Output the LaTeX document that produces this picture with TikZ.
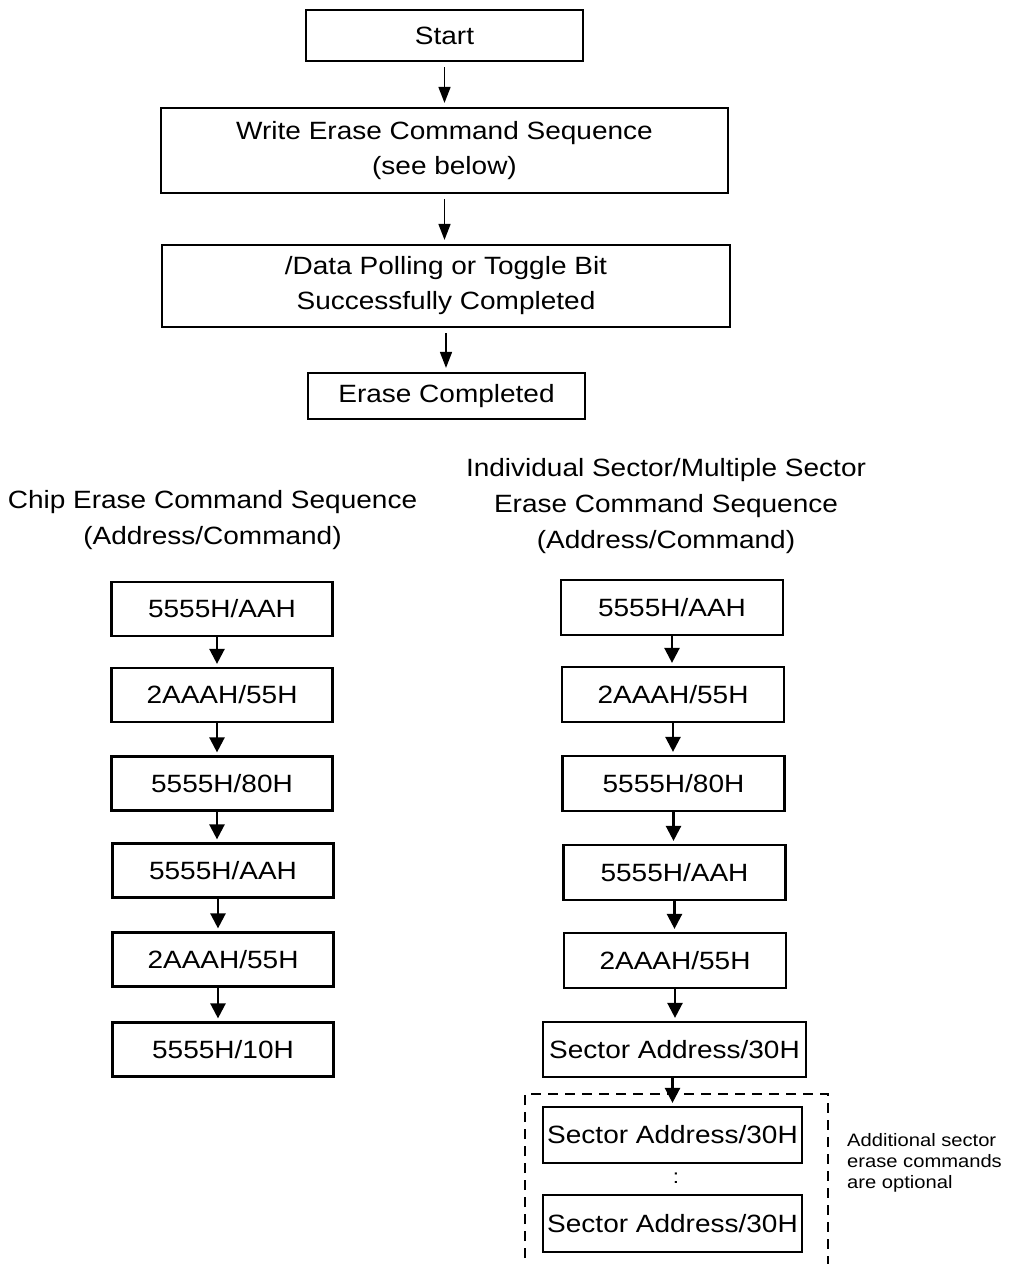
\documentclass[tikz,border=0pt]{standalone}
\usepackage{fontspec}
\setmainfont{Liberation Sans}[FakeStretch=1.12]
\usetikzlibrary{arrows.meta}
\begin{document}
\begin{tikzpicture}[x=1pt,y=-1pt,
  box/.style={draw, line width=2.2pt, inner sep=0pt, align=center,
    font=\fontsize{25}{35}\selectfont},
  title/.style={align=center, inner sep=0pt, font=\fontsize{25}{36}\selectfont},
  thinarrow/.style={line width=1.6pt, -{Triangle[length=16pt,width=12pt]}, shorten <=5pt, shorten >=4pt},
  seqarrow/.style={line width=2.4pt, -{Triangle[length=15pt,width=15pt]}, shorten >=3pt},
  dashbox/.style={line width=2pt, dash pattern=on 10pt off 7pt}
]
\useasboundingbox (0,0) rectangle (1017,1264);

% top flow
\node[box, minimum width=277pt, minimum height=51pt] (start) at (444.5,35.5) {Start};
\node[box, minimum width=567pt, minimum height=85pt] (write) at (444.5,150.5) {Write Erase Command Sequence\\(see below)};
\node[box, minimum width=568pt, minimum height=82pt] (poll) at (446,286) {/Data Polling or Toggle Bit\\Successfully Completed};
\node[box, minimum width=277pt, minimum height=46pt] (done) at (446.5,396) {Erase Completed};

\draw[thinarrow] (start.south) -- (write.north);
\draw[thinarrow] (write.south) -- (write.south |- poll.north);
\draw[thinarrow] (poll.south) -- (poll.south |- done.north);

% titles
\node[title] (ltitle) at (212.5,520) {Chip Erase Command Sequence\\(Address/Command)};
\node[title] (rtitle) at (666,506) {Individual Sector/Multiple Sector\\Erase Command Sequence\\(Address/Command)};

% left column
\begin{scope}[every node/.style={box, minimum width=221pt, minimum height=54pt}]
\node (L1) at (222,609) {5555H/AAH};
\node (L2) at (222,695) {2AAAH/55H};
\node (L3) at (222,783.5) {5555H/80H};
\node (L4) at (223,870.5) {5555H/AAH};
\node (L5) at (223,959.5) {2AAAH/55H};
\node (L6) at (223,1049.5) {5555H/10H};
\end{scope}
\foreach \a/\b in {L1/L2,L2/L3,L3/L4,L4/L5,L5/L6}
  \draw[seqarrow] ([xshift=-5pt]\a.south) -- ([xshift=-5pt]\a.south |- \b.north);

% right column
\begin{scope}[every node/.style={box, minimum width=222pt, minimum height=55pt}]
\node (R1) at (672,607.5) {5555H/AAH};
\node (R2) at (673,694.5) {2AAAH/55H};
\node (R3) at (673.5,783.5) {5555H/80H};
\node (R4) at (674.5,872.5) {5555H/AAH};
\node (R5) at (675,960.5) {2AAAH/55H};
\end{scope}
\node[box, minimum width=263pt, minimum height=55pt] (R6) at (674.5,1049.5) {Sector Address/30H};
\node[box, minimum width=259pt, minimum height=56pt] (R7) at (672.5,1135) {Sector Address/30H};
\node[box, minimum width=259pt, minimum height=57pt] (R8) at (672.5,1223.5) {Sector Address/30H};

\draw[seqarrow] (R1.south) -- (R1.south |- R2.north);
\draw[seqarrow] (R2.south) -- (R2.south |- R3.north);
\draw[seqarrow] (R3.south) -- (R3.south |- R4.north);
\draw[seqarrow] (R4.south) -- (R4.south |- R5.north);
\draw[seqarrow] (R5.south) -- (R5.south |- R6.north);
\draw[seqarrow] (R6.south -| R7.north) -- (R7.north);

% optional part
\draw[dashbox] (525,1275) -- (525,1094) -- (828,1094) -- (828,1275);
\node[inner sep=0pt, font=\fontsize{20}{20}\selectfont] (dots) at (676,1178) {:};
\node[anchor=west, align=left, inner sep=0pt, font=\fontsize{18}{21}\selectfont] (note) at (847,1163)
  {Additional sector\\erase commands\\are optional};
\end{tikzpicture}
\end{document}
